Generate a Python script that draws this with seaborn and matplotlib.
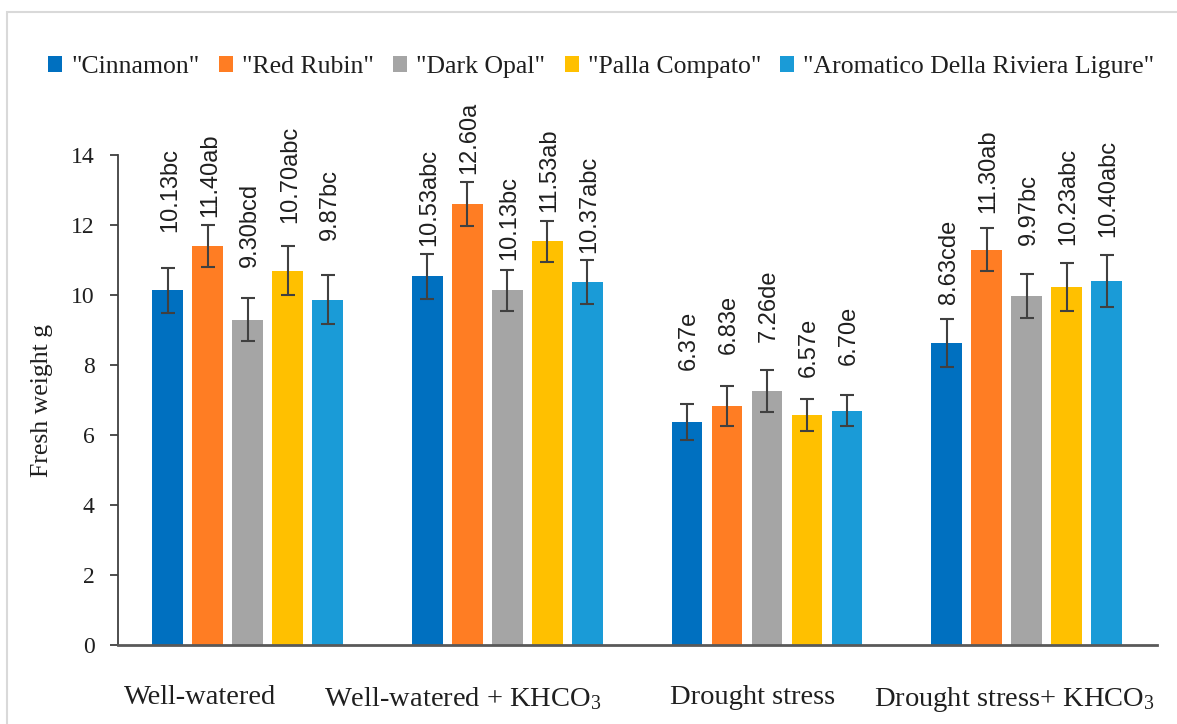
import matplotlib
matplotlib.use('Agg')
import matplotlib.pyplot as plt
import seaborn as sns
import pandas as pd
from matplotlib.patches import Rectangle
from matplotlib.transforms import ScaledTranslation

# ---------------- data ----------------
treatments = ['Well-watered',
              'Well-watered + KHCO$_3$',
              'Drought stress',
              'Drought stress+ KHCO$_3$']
varieties = ['"Cinnamon"', '"Red Rubin"', '"Dark Opal"',
             '"Palla Compato"', '"Aromatico Della Riviera Ligure"']

cinnamon = [10.13, 10.53, 6.37, 8.63]
red_rubin = [11.40, 12.60, 6.83, 11.30]
dark_opal = [9.30, 10.13, 7.26, 9.97]
palla_compato = [10.70, 11.53, 6.57, 10.23]
aromatico = [9.87, 10.37, 6.70, 10.40]

cinnamon_sd = [0.65, 0.63, 0.52, 0.68]
red_rubin_sd = [0.60, 0.63, 0.58, 0.61]
dark_opal_sd = [0.62, 0.59, 0.61, 0.63]
palla_compato_sd = [0.69, 0.59, 0.45, 0.68]
aromatico_sd = [0.71, 0.62, 0.45, 0.74]

cinnamon_letters = ['bc', 'abc', 'e', 'cde']
red_rubin_letters = ['ab', 'a', 'e', 'ab']
dark_opal_letters = ['bcd', 'bc', 'de', 'bc']
palla_compato_letters = ['abc', 'ab', 'e', 'abc']
aromatico_letters = ['bc', 'abc', 'e', 'abc']

yticks = [0, 2, 4, 6, 8, 10, 12, 14]

# ---------------- layout / style ----------------
colors = ['#0070C0', '#FF7D23', '#A5A5A5', '#FFC000', '#1A9BD7']
# distance (data units) between error-bar top and the bottom of each label
label_pads = [
    [1.03, 0.24, 0.97, 0.43],
    [0.22, 0.24, 0.89, 0.42],
    [0.89, 0.29, 0.79, 0.84],
    [0.68, 0.24, 0.65, 0.52],
    [0.99, 0.21, 0.86, 0.53],
]
xlabel_shift_px = [-48, -45, -15, -12]

values = [cinnamon, red_rubin, dark_opal, palla_compato, aromatico]
sds = [cinnamon_sd, red_rubin_sd, dark_opal_sd, palla_compato_sd, aromatico_sd]
letters = [cinnamon_letters, red_rubin_letters, dark_opal_letters,
           palla_compato_letters, aromatico_letters]

rows = []
for v, vals in zip(varieties, values):
    for t, val in zip(treatments, vals):
        rows.append({'treatment': t, 'variety': v, 'weight': val})
df = pd.DataFrame(rows)

sns.set_theme(style='white')
serif = ['Liberation Serif', 'DejaVu Serif']
plt.rcParams['font.family'] = serif
plt.rcParams['mathtext.fontset'] = 'custom'
plt.rcParams['mathtext.rm'] = 'Liberation Serif'
plt.rcParams['mathtext.it'] = 'Liberation Serif'
plt.rcParams['mathtext.bf'] = 'Liberation Serif'

text_color = '#1f1f1f'
fig = plt.figure(figsize=(11.77, 7.24), dpi=100)
ax = fig.add_axes([118 / 1177, 79 / 724, 1038.5 / 1177, 490 / 724])

sns.barplot(data=df, x='treatment', y='weight', hue='variety',
            order=treatments, hue_order=varieties, palette=colors,
            width=0.77, gap=0.23, errorbar=None, saturation=1,
            linewidth=0, ax=ax)

err_color = '#404040'
bar_containers = list(ax.containers)
for i, cont in enumerate(bar_containers):
    for j, bar in enumerate(cont.patches):
        x = bar.get_x() + bar.get_width() / 2
        h = bar.get_height()
        sd = sds[i][j]
        ax.errorbar(x, h, yerr=sd, fmt='none', ecolor=err_color,
                    elinewidth=1.5, capsize=4.7, capthick=1.5, zorder=5)
        ax.annotate(f'{values[i][j]:.2f}{letters[i][j]}',
                    xy=(x, h + sd + label_pads[i][j]),
                    xytext=(2, 0), textcoords='offset pixels',
                    rotation=90, ha='center', va='bottom',
                    fontsize=17, color=text_color,
                    family=['Liberation Sans', 'DejaVu Sans'])

ax.set_xlim(-0.5, 3.5)
ax.set_ylim(0, 14)
ax.set_yticks(yticks)
ax.set_yticklabels([str(t) for t in yticks])
ax.set_xlabel('')
ax.set_ylabel('Fresh weight g', fontsize=18.5, color=text_color, labelpad=13)

for s in ['top', 'right']:
    ax.spines[s].set_visible(False)
ax.spines['left'].set_color(err_color)
ax.spines['left'].set_linewidth(1.3)
ax.spines['bottom'].set_color('#595959')
ax.spines['bottom'].set_linewidth(2.0)
ax.tick_params(axis='y', direction='out', length=6, width=1.3,
               color=err_color, labelsize=17, labelcolor=text_color, pad=11, left=True)
ax.tick_params(axis='x', length=0, labelsize=20.5, labelcolor=text_color, pad=29)

for lab, dx in zip(ax.get_xticklabels(), xlabel_shift_px):
    lab.set_transform(lab.get_transform() + ScaledTranslation(dx / 100, 0, fig.dpi_scale_trans))

handles, labels = ax.get_legend_handles_labels()
if ax.get_legend() is not None:
    ax.get_legend().remove()
fig.legend(handles, labels, loc='center', bbox_to_anchor=(0.511, 1 - 67 / 724),
           ncol=5, frameon=False, fontsize=18.5, handlelength=0.55, handleheight=0.55,
           handletextpad=0.35, columnspacing=0.75, labelcolor=text_color)

fig.patches.append(Rectangle((7 / 1177, -0.05), 1.2, 1.05 - 12 / 724,
                             transform=fig.transFigure, fill=False,
                             edgecolor='#D9D9D9', linewidth=1.5, zorder=0))

fig.savefig('out.png', dpi=100)
